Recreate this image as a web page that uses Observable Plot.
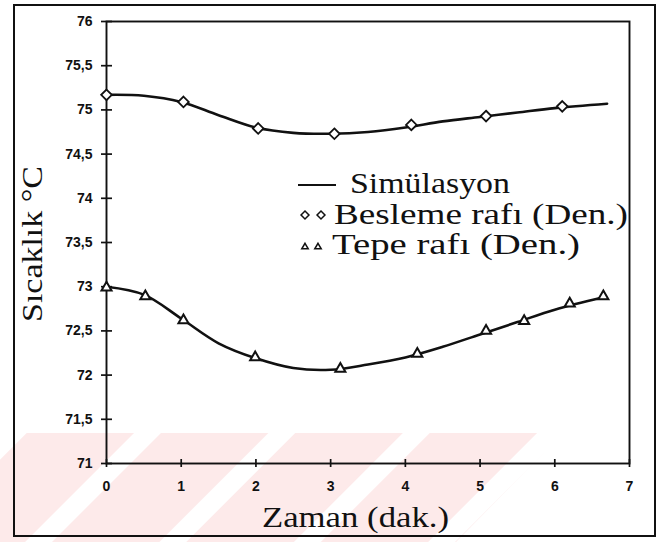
<!DOCTYPE html>
<html>
<head>
<meta charset="utf-8">
<script src="https://cdn.jsdelivr.net/npm/d3@7"></script>
<script src="https://cdn.jsdelivr.net/npm/@observablehq/plot@0.6"></script>
<style>
  html, body { margin: 0; padding: 0; background: white; }
  #wrap { position: relative; width: 661px; height: 542px; overflow: hidden; background: white; }
  #bg { position: absolute; left: 0; top: 0; }
  #border { position: absolute; left: 13px; top: 4px; width: 643px; height: 533px; box-sizing: border-box; border: 2px solid #111; }
  #chart { position: absolute; left: 0; top: 0; }
  #overlay { position: absolute; left: 0; top: 0; pointer-events: none; }
</style>
</head>
<body>
<div id="wrap">
  <svg id="bg" width="661" height="542">
    <defs>
      <pattern id="stripe" patternUnits="userSpaceOnUse" width="95" height="95" x="40" patternTransform="rotate(45)">
        <rect x="0" y="0" width="76" height="95" fill="#fdeaea"></rect>
      </pattern>
    </defs>
    <polygon points="0,433 563,433 456,542 0,542" fill="url(#stripe)"></polygon>
  </svg>
  <div id="border"></div>
  <div id="chart"></div>
  <svg id="overlay" width="661" height="542"></svg>
</div>
<script>
// --- data ---
const xTicks = [0, 1, 2, 3, 4, 5, 6, 7];
const yTicks = [71, 71.5, 72, 72.5, 73, 73.5, 74, 74.5, 75, 75.5, 76];

// Simulation (Simülasyon) curves
const simTimeUpper = [0, 0.5, 1.0, 1.5, 2.0, 2.5, 3.0, 3.5, 4.0, 4.5, 5.0, 5.5, 6.0, 6.7];
const simUpper     = [75.17, 75.16, 75.09, 74.94, 74.80, 74.74, 74.73, 74.75, 74.80, 74.87, 74.92, 74.97, 75.02, 75.07];
const simTimeLower = [0, 0.5, 1.0, 1.5, 2.0, 2.5, 3.0, 3.5, 4.0, 4.5, 5.0, 5.5, 6.0, 6.65];
const simLower     = [73.00, 72.91, 72.64, 72.36, 72.19, 72.08, 72.06, 72.12, 72.20, 72.32, 72.46, 72.60, 72.74, 72.88];

// Besleme rafı (Den.) — diamonds
const beslemeTime = [0, 1.03, 2.03, 3.05, 4.08, 5.08, 6.1];
const besleme     = [75.17, 75.09, 74.79, 74.73, 74.83, 74.93, 75.04];

// Tepe rafı (Den.) — triangles
const tepeTime = [0, 0.52, 1.03, 1.99, 3.13, 4.16, 5.08, 5.59, 6.2, 6.65];
const tepe     = [72.99, 72.89, 72.62, 72.20, 72.07, 72.24, 72.50, 72.61, 72.81, 72.89];

// legend / titles text
const xTitle = "Zaman (dak.)";
const yTitle = "Sıcaklık °C";
const legendLabels = ["Simülasyon", "Besleme rafı (Den.)", "Tepe rafı (Den.)"];

// --- build tables ---
const zip = (xs, ys) => xs.map((x, i) => ({x, y: ys[i]}));
const upperLine = zip(simTimeUpper, simUpper);
const lowerLine = zip(simTimeLower, simLower);
const beslemePts = zip(beslemeTime, besleme);
const tepePts = zip(tepeTime, tepe);

const chart = Plot.plot({
  width: 661,
  height: 542,
  marginLeft: 106,
  marginRight: 32,
  marginTop: 21,
  marginBottom: 79,
  x: {domain: [0, 7], label: null},
  y: {domain: [71, 76], label: null},
  style: {
    fontFamily: "'Liberation Sans', Arial, sans-serif",
    fontSize: "14px",
    fontWeight: "bold",
    background: "transparent",
    color: "#111"
  },
  marks: [
    Plot.frame({stroke: "#111", strokeWidth: 1.9}),
    Plot.axisX({ticks: xTicks, tickSize: 8, dy: -4, tickFormat: () => "", strokeWidth: 1.7, label: null}),
    Plot.axisX({ticks: xTicks, tickSize: 0, tickPadding: 18, tickFormat: d => String(d), label: null}),
    Plot.axisY({ticks: yTicks, tickSize: 11, dx: 6, tickFormat: () => "", strokeWidth: 1.7, label: null}),
    Plot.axisY({ticks: yTicks, tickSize: 0, tickPadding: 14, tickFormat: d => String(d).replace(".", ","), label: null}),
    Plot.line(upperLine, {x: "x", y: "y", curve: "catmull-rom", stroke: "#111", strokeWidth: 2.6}),
    Plot.line(lowerLine, {x: "x", y: "y", curve: "catmull-rom", stroke: "#111", strokeWidth: 2.6}),
    Plot.dot(beslemePts, {x: "x", y: "y", symbol: "diamond2", r: 4.8, stroke: "#111", strokeWidth: 1.8, fill: "white"}),
    Plot.dot(tepePts, {x: "x", y: "y", symbol: "triangle2", r: 4.8, stroke: "#111", strokeWidth: 2, fill: "white"})
  ]
});
document.getElementById("chart").appendChild(chart);

// --- titles and legend overlay ---
const ov = d3.select("#overlay");
const serif = "'Liberation Serif', 'Times New Roman', serif";

ov.append("text")
  .attr("transform", "translate(42,244) rotate(-90)")
  .attr("text-anchor", "middle")
  .attr("font-family", serif).attr("font-size", 30)
  .attr("textLength", 156).attr("lengthAdjust", "spacingAndGlyphs")
  .attr("fill", "#111")
  .text(yTitle);

ov.append("text")
  .attr("x", 262).attr("y", 527)
  .attr("font-family", serif).attr("font-size", 30)
  .attr("textLength", 187).attr("lengthAdjust", "spacingAndGlyphs")
  .attr("fill", "#111")
  .text(xTitle);

// legend row 1: line
ov.append("line").attr("x1", 298).attr("x2", 336).attr("y1", 185).attr("y2", 185)
  .attr("stroke", "#111").attr("stroke-width", 2);
// legend row 2: diamonds
const diamond = d3.symbol(d3.symbolDiamond2, 40);
[305, 321].forEach(cx => ov.append("path").attr("d", diamond()).attr("transform", `translate(${cx},215)`)
  .attr("fill", "white").attr("stroke", "#111").attr("stroke-width", 1.5));
// legend row 3: triangles
const tri = d3.symbol(d3.symbolTriangle2, 30);
[305, 318].forEach(cx => ov.append("path").attr("d", tri()).attr("transform", `translate(${cx},247)`)
  .attr("fill", "white").attr("stroke", "#111").attr("stroke-width", 1.5));

const legendPos = [
  {x: 350, y: 193, len: 160},
  {x: 334, y: 224, len: 294},
  {x: 332, y: 254, len: 248}
];
legendLabels.forEach((t, i) => {
  ov.append("text")
    .attr("x", legendPos[i].x).attr("y", legendPos[i].y)
    .attr("font-family", serif).attr("font-size", 29)
    .attr("textLength", legendPos[i].len).attr("lengthAdjust", "spacingAndGlyphs")
    .attr("fill", "#111")
    .text(t);
});
</script>
</body>
</html>
